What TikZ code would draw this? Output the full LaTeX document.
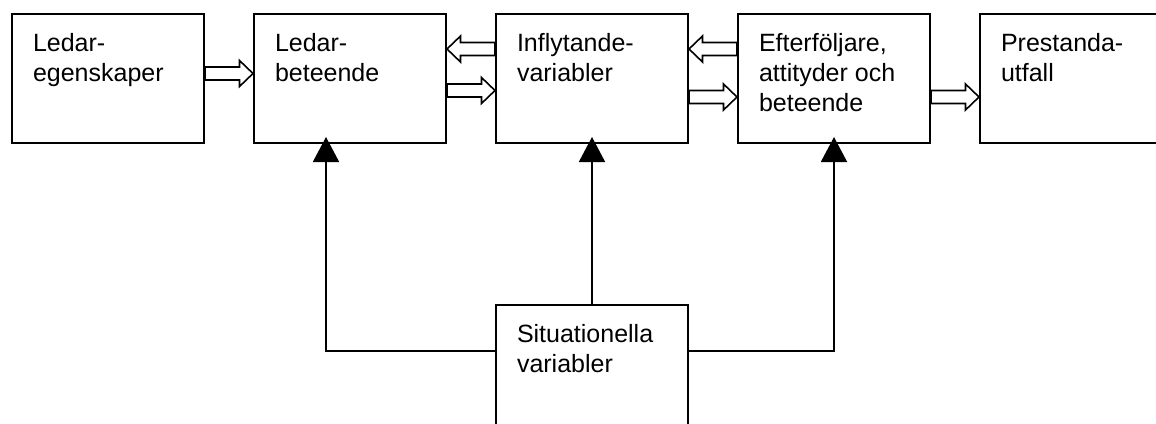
\documentclass[tikz,border=0pt]{standalone}
\usepackage{fontspec}
\setmainfont{Liberation Sans}
\usetikzlibrary{arrows.meta, positioning, calc}

\newcommand{\boxtext}[1]{\parbox[t][45.5pt][t]{75pt}{\raggedright #1}}

\begin{document}
\begin{tikzpicture}[
    node distance=24pt,
    block/.style={rectangle, draw=black, line width=1pt, minimum width=96pt, minimum height=64.5pt, inner sep=0pt, font=\fontsize{12.5pt}{15pt}\selectfont},
    flow/.style={draw=black, fill=white, line width=0.8pt, to path={
        let \p1=(\tikztostart), \p2=(\tikztotarget), \n1={sign(\x2-\x1)*6.75pt} in
        (\x1,{\y1+3.25pt}) -- ({\x2-(\n1)},{\y1+3.25pt}) -- ({\x2-(\n1)},{\y1+6.5pt}) -- (\x2,\y1)
        -- ({\x2-(\n1)},{\y1-6.5pt}) -- ({\x2-(\n1)},{\y1-3.25pt}) -- (\x1,{\y1-3.25pt}) -- cycle}},
    feed/.style={-{Triangle[length=12.5pt, width=13pt]}, line width=1pt}
]
    \useasboundingbox (0,0) rectangle (578pt,-211.5pt);

    \node[block, anchor=north west] (lead) at (5.5pt,-6.5pt) {\boxtext{Ledar-\\egenskaper}};
    \node[block, right=of lead] (beh) {\boxtext{Ledar-\\beteende}};
    \node[block, right=of beh] (infl) {\boxtext{Inflytande-\\variabler}};
    \node[block, right=of infl] (foll) {\boxtext{Efterföljare,\\attityder och\\beteende}};
    \node[block, right=of foll] (perf) {\boxtext{Prestanda-\\utfall}};
    \node[block, below=80pt of infl] (sit) {\boxtext{Situationella\\variabler}};

    % horizontal block arrows
    \draw[flow] ([yshift=-30.25pt]lead.north east) to ([yshift=-30.25pt]beh.north west);
    \draw[flow] ([yshift=-18pt]infl.north west) to ([yshift=-18pt]beh.north east);
    \draw[flow] ([yshift=-38.75pt]beh.north east) to ([yshift=-38.75pt]infl.north west);
    \draw[flow] ([yshift=-18pt]foll.north west) to ([yshift=-18pt]infl.north east);
    \draw[flow] ([yshift=-42pt]infl.north east) to ([yshift=-42pt]foll.north west);
    \draw[flow] ([yshift=-42pt]foll.north east) to ([yshift=-42pt]perf.north west);

    % situational influence
    \coordinate (sitL) at ([yshift=-23.5pt]sit.north west);
    \coordinate (sitR) at ([yshift=-23.5pt]sit.north east);
    \draw[feed] (sitL) -| ([xshift=-12pt, yshift=3.5pt]beh.south);
    \draw[feed] (sit) -- ([yshift=3.5pt]infl.south);
    \draw[feed] (sitR) -| ([yshift=3.5pt]foll.south);
\end{tikzpicture}
\end{document}
